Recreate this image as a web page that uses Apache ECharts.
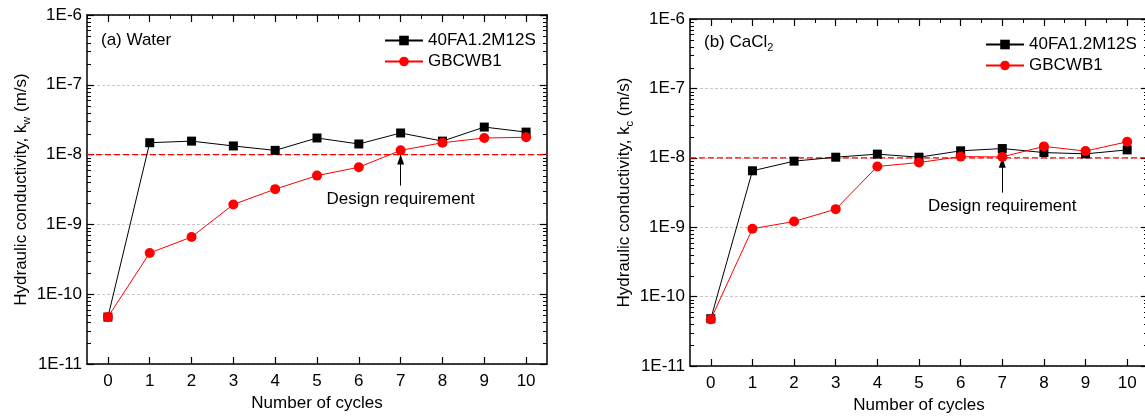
<!DOCTYPE html>
<html>
<head>
<meta charset="utf-8">
<title>Hydraulic conductivity vs. wet-dry cycles</title>
<script src="https://cdn.jsdelivr.net/npm/echarts@6/dist/echarts.min.js"></script>
<style>
  html, body { margin: 0; padding: 0; background: #fff; }
  #chart { width: 1145px; height: 417px; }
</style>
</head>
<body>
<div id="chart"></div>
<script>
// Number of wet-dry cycles (x categories)
const cycles = ['0', '1', '2', '3', '4', '5', '6', '7', '8', '9', '10'];

// Series names
const seriesNames = ['40FA1.2M12S', 'GBCWB1'];

// (a) permeated with water, k_w (m/s)
const waterFA = [4.7e-11, 1.48e-8, 1.56e-8, 1.33e-8, 1.15e-8, 1.73e-8, 1.42e-8, 2.04e-8, 1.56e-8, 2.48e-8, 2.1e-8];
const waterGB = [4.7e-11, 3.9e-10, 6.6e-10, 1.93e-9, 3.2e-9, 5.0e-9, 6.6e-9, 1.15e-8, 1.48e-8, 1.73e-8, 1.77e-8];

// (b) permeated with CaCl2, k_c (m/s)
const cacl2FA = [4.8e-11, 6.5e-9, 8.95e-9, 1.02e-8, 1.13e-8, 1.02e-8, 1.26e-8, 1.36e-8, 1.19e-8, 1.14e-8, 1.3e-8];
const cacl2GB = [4.7e-11, 9.5e-10, 1.21e-9, 1.82e-9, 7.5e-9, 8.55e-9, 1.04e-8, 1.03e-8, 1.46e-8, 1.25e-8, 1.7e-8];

// Log axis range and design requirement
const yRange = [1e-11, 1e-6];
const designRequirement = 1e-8;
const designLabel = 'Design requirement';
const arrowCycle = '7';
const arrowTail = [3.6e-9, 3.15e-9];

const FONT = "'Liberation Sans', Arial, Helvetica, sans-serif";
const BLACK = '#000000';
const RED = '#ff0000';

// log minor tick positions (2..9 x 10^k) inside each decade
const minorTickValues = [];
for (let k = -11; k < -6; k++) {
  for (let m = 2; m <= 9; m++) minorTickValues.push(m * Math.pow(10, k));
}

const grids = [
  { left: 87, top: 15, width: 460, height: 349 },
  { left: 690, top: 19, width: 458, height: 347 }
];

const richSub = {
  sub: { fontSize: 11, fontFamily: FONT, color: BLACK, verticalAlign: 'bottom', lineHeight: 11 }
};

// x axes per panel: [bottom labelled, top major ticks, top minor ticks, hidden edge-to-edge span]
function xAxes(gi) {
  const base = { type: 'category', data: cycles, gridIndex: gi, boundaryGap: true };
  return [
    Object.assign({}, base, {
      position: 'bottom',
      name: 'Number of cycles', nameLocation: 'middle', nameGap: 29,
      nameTextStyle: { fontSize: 17, fontFamily: FONT, color: BLACK },
      axisLine: { show: true, onZero: false, lineStyle: { color: BLACK, width: 1.5 } },
      axisTick: { show: true, inside: true, alignWithLabel: true, length: 7, lineStyle: { color: BLACK, width: 1.2 } },
      axisLabel: { show: true, margin: 9, fontSize: 17, fontFamily: FONT, color: BLACK, interval: 0 },
      splitLine: { show: false }
    }),
    Object.assign({}, base, {
      position: 'top',
      axisLine: { show: true, onZero: false, lineStyle: { color: BLACK, width: 1.5 } },
      axisTick: { show: true, inside: true, alignWithLabel: true, length: 7, interval: 0, lineStyle: { color: BLACK, width: 1.2 } },
      axisLabel: { show: false },
      splitLine: { show: false }
    }),
    Object.assign({}, base, {
      position: 'top',
      axisLine: { show: false },
      axisTick: { show: true, inside: true, alignWithLabel: false, length: 4, interval: 0, lineStyle: { color: BLACK, width: 1 } },
      axisLabel: { show: false },
      splitLine: { show: false }
    }),
    {
      type: 'category', gridIndex: gi, data: ['start', 'end'], boundaryGap: false, show: false
    }
  ];
}

function yAxes(gi, sym) {
  const base = { type: 'log', logBase: 10, min: yRange[0], max: yRange[1], gridIndex: gi };
  return [
    Object.assign({}, base, {
      position: 'left',
      name: 'Hydraulic conductivity, k{sub|' + sym + '} (m/s)',
      nameLocation: 'middle', nameGap: 55,
      nameTextStyle: { fontSize: 17, fontFamily: FONT, color: BLACK, lineHeight: 22, rich: richSub },
      axisLine: { show: true, onZero: false, lineStyle: { color: BLACK, width: 1.5 } },
      axisTick: { show: true, inside: true, length: 7, lineStyle: { color: BLACK, width: 1.2 } },
      axisLabel: {
        show: true, margin: 5, fontSize: 17, fontFamily: FONT, color: BLACK,
        formatter: v => '1E' + Math.round(Math.log10(v))
      },
      splitLine: { show: true, lineStyle: { color: '#c8c8c8', width: 1, type: [3, 2] } }
    }),
    Object.assign({}, base, {
      position: 'right',
      axisLine: { show: true, onZero: false, lineStyle: { color: BLACK, width: 1.5 } },
      axisTick: { show: true, inside: true, length: 7, lineStyle: { color: BLACK, width: 1.2 } },
      axisLabel: { show: false },
      splitLine: { show: false }
    })
  ];
}

// short inward ticks on the left and right frame edges at the log minor values
function minorTickSeries(xi, yi) {
  return {
    type: 'custom', xAxisIndex: xi, yAxisIndex: yi, silent: true, z: 5,
    data: minorTickValues.map(v => [0, v]),
    renderItem(params, api) {
      const cs = params.coordSys;
      const y = Math.round(api.coord([0, api.value(1)])[1]) + 0.5;
      const st = { stroke: BLACK, fill: null, lineWidth: 1 };
      return {
        type: 'group',
        children: [
          { type: 'line', shape: { x1: cs.x, y1: y, x2: cs.x + 4, y2: y }, style: st },
          { type: 'line', shape: { x1: cs.x + cs.width - 4, y1: y, x2: cs.x + cs.width, y2: y }, style: st }
        ]
      };
    }
  };
}

// red dashed design-requirement line spanning the plot edge to edge
function designLineSeries(xi, yi) {
  return {
    type: 'line', xAxisIndex: xi, yAxisIndex: yi, silent: true, z: 4,
    data: [designRequirement, designRequirement],
    symbol: 'none',
    lineStyle: { color: RED, width: 1.2, type: [6, 3] },
    itemStyle: { color: RED }
  };
}

function panelSeries(xi, yi, faData, gbData, tail) {
  return [
    {
      name: seriesNames[0], type: 'line', xAxisIndex: xi, yAxisIndex: yi,
      data: faData, symbol: 'rect', symbolSize: 9,
      lineStyle: { color: BLACK, width: 1 }, itemStyle: { color: BLACK },
      z: 6
    },
    {
      name: seriesNames[1], type: 'line', xAxisIndex: xi, yAxisIndex: yi,
      data: gbData, symbol: 'circle', symbolSize: 10,
      lineStyle: { color: RED, width: 1 }, itemStyle: { color: RED },
      z: 7,
      markLine: {
        silent: true, animation: false,
        data: [
          [
            { coord: [arrowCycle, tail], symbol: 'none' },
            { coord: [arrowCycle, designRequirement], symbol: 'triangle', symbolSize: [7, 10], symbolOffset: [0, 5] }
          ]
        ],
        lineStyle: { color: BLACK, width: 1, type: 'solid' },
        label: {
          show: true, position: 'start', distance: 5, formatter: designLabel,
          fontSize: 17, fontFamily: FONT, color: BLACK
        }
      }
    }
  ];
}

const legendCommon = {
  orient: 'vertical', itemWidth: 38, itemHeight: 12, itemGap: 4,
  data: seriesNames,
  textStyle: { fontSize: 17, fontFamily: FONT, color: BLACK },
  selectedMode: false
};

const option = {
  animation: false,
  backgroundColor: '#ffffff',
  grid: grids.map(g => Object.assign({ outerBoundsMode: 'none', containLabel: false }, g)),
  title: [
    { text: '(a) Water', left: 96, top: 27, textStyle: { fontSize: 17, fontWeight: 'normal', fontFamily: FONT, color: BLACK } },
    { text: '(b) CaCl{sub|2}', left: 699, top: 26, textStyle: { fontSize: 17, fontWeight: 'normal', fontFamily: FONT, color: BLACK, lineHeight: 22, rich: richSub } }
  ],
  legend: [
    Object.assign({ left: 379, top: 27 }, legendCommon),
    Object.assign({ left: 980, top: 31 }, legendCommon)
  ],
  xAxis: [].concat(xAxes(0), xAxes(1)),
  yAxis: [].concat(yAxes(0, 'w'), yAxes(1, 'c')),
  series: [].concat(
    panelSeries(0, 0, waterFA, waterGB, arrowTail[0]),
    panelSeries(4, 2, cacl2FA, cacl2GB, arrowTail[1]),
    [
      designLineSeries(3, 0), designLineSeries(7, 2),
      minorTickSeries(0, 0), minorTickSeries(4, 2)
    ]
  )
};

const chart = echarts.init(document.getElementById('chart'), null, { renderer: 'canvas' });
chart.setOption(option);
</script>
</body>
</html>
